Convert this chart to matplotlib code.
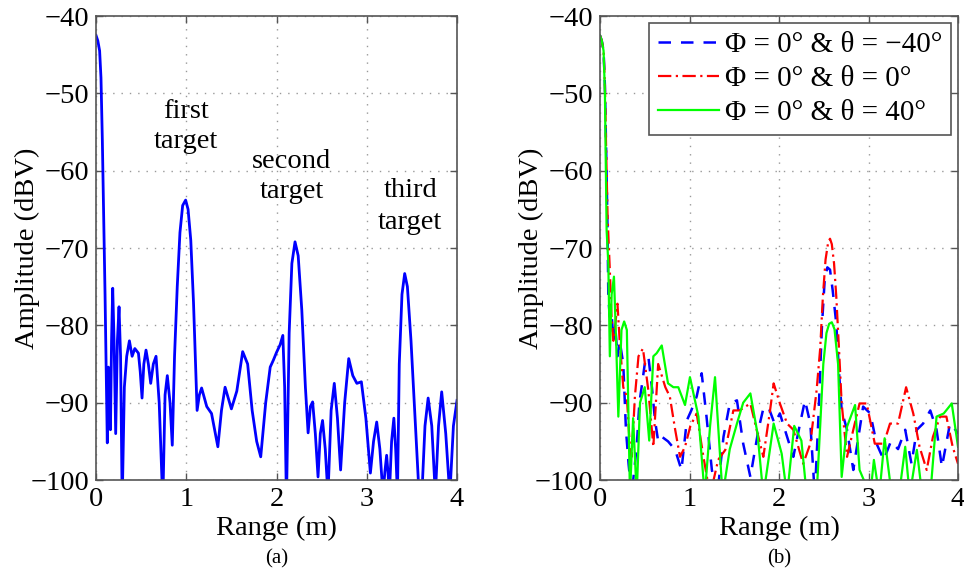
import numpy as np
import matplotlib.pyplot as plt

plt.rcParams['font.family'] = ['Liberation Serif', 'DejaVu Serif']

# (a) single measurement
range_a = [0.0, 0.02, 0.04, 0.055, 0.07, 0.085, 0.1, 0.115, 0.125, 0.131, 0.137, 0.148,
           0.16, 0.172, 0.185, 0.2, 0.218, 0.237, 0.255, 0.272,
           0.29, 0.314, 0.34, 0.37, 0.40, 0.43, 0.47, 0.49, 0.51, 0.53, 0.554, 0.58,
           0.606, 0.635, 0.665, 0.70, 0.74, 0.765, 0.79, 0.82,
           0.845, 0.87, 0.90, 0.93, 0.96, 0.993, 1.02, 1.05, 1.08, 1.12, 1.145, 1.17,
           1.227, 1.28, 1.35, 1.39, 1.43, 1.50, 1.56,
           1.625, 1.68, 1.73, 1.78, 1.825, 1.88, 1.93, 1.965, 2.0, 2.04, 2.07, 2.09, 2.11,
           2.14, 2.17, 2.205, 2.24, 2.28, 2.32, 2.35, 2.375, 2.40,
           2.43, 2.46, 2.485, 2.51, 2.54, 2.57, 2.605, 2.64, 2.675, 2.71, 2.755, 2.80,
           2.845, 2.89, 2.94, 2.99, 3.04, 3.075, 3.11, 3.145, 3.18, 3.2, 3.22,
           3.235, 3.25, 3.275, 3.30, 3.32, 3.34, 3.36, 3.39, 3.42, 3.45, 3.49, 3.54,
           3.58, 3.61, 3.645, 3.68, 3.72, 3.76, 3.795, 3.83, 3.875, 3.92, 3.96, 4.0]
amp_a = [-42.5, -43.2, -44.5, -48, -56, -66, -76, -88, -95.2, -88, -85.4, -88,
         -93.5, -82, -75.2, -82, -94, -82, -77.6, -84,
         -103, -88, -84, -82, -84, -83, -83.6, -86, -89.4, -85, -83.2, -85,
         -87.5, -85, -84, -90, -103, -89, -86.5, -90,
         -95.5, -84, -75, -68, -64.5, -63.8, -65, -69, -77, -91, -89, -88.1,
         -90.5, -91.4, -95.7, -91, -88, -90.8, -88.5,
         -83.4, -85, -91, -95, -97, -90, -85.4, -84.5, -83.5, -82.5, -81.3, -88, -103,
         -81, -72, -69.2, -71, -78, -88, -93.9, -90.5, -89.9,
         -94, -99.6, -94, -92.3, -96, -102, -91, -87.5, -92, -98.7, -90, -84.3,
         -86.5, -87.5, -87.3, -92, -99.1, -95, -92.5, -96, -102, -99, -96.8,
         -99, -102, -95, -92, -96, -102, -85, -76, -73.3, -75, -82, -93,
         -102, -102, -93, -89.4, -93, -102, -93, -88.6, -94, -102, -93, -89.7]

# (b) three steering angles
range_neg40 = [0.0, 0.02, 0.04, 0.055, 0.07, 0.085, 0.093, 0.11, 0.13, 0.15, 0.17, 0.195,
               0.22, 0.26, 0.29, 0.32, 0.354, 0.38,
               0.41, 0.44, 0.465, 0.50, 0.54, 0.58, 0.615, 0.65, 0.69, 0.76, 0.84, 0.91,
               0.97, 1.02, 1.08, 1.136, 1.19, 1.25, 1.31, 1.38, 1.45, 1.53, 1.60, 1.68,
               1.77, 1.82, 1.88, 1.95, 2.01, 2.09, 2.16, 2.23, 2.29, 2.35, 2.40, 2.44,
               2.48, 2.51, 2.54, 2.57, 2.60, 2.64, 2.67,
               2.70, 2.76, 2.83, 2.94, 3.02, 3.09, 3.17, 3.25, 3.33, 3.41, 3.48, 3.54,
               3.61, 3.69, 3.76, 3.82, 3.91, 3.97, 4.0]
amp_neg40 = [-42.5, -43.2, -44.5, -49, -58, -68, -76.3, -79, -78.5, -82, -80, -84,
             -82, -85, -93.5, -98, -102, -99,
             -95.7, -90, -88, -85, -84, -88, -92.3, -95, -94.4, -95, -96.1, -98.7,
             -92.3, -91, -89.2, -86.2, -91.8, -98.7, -102, -94.4, -90.1, -89.7, -95.3, -99.6,
             -93.5, -91, -90.5, -92.7, -91.4, -94.4, -97, -93, -89.7, -92.7, -102, -92,
             -80, -74.2, -72.5, -72.8, -75.5, -79.8, -86,
             -91, -93.5, -98.7, -90.5, -91.4, -95.3, -97.4, -95, -96, -93.5, -97.9, -93.5,
             -92.7, -91, -93.5, -98.3, -92.7, -93.5, -94]
range_0 = [0.0, 0.02, 0.04, 0.055, 0.07, 0.085, 0.11, 0.13, 0.15, 0.17, 0.195, 0.22,
           0.26, 0.30, 0.33, 0.354,
           0.39, 0.43, 0.48, 0.54, 0.596, 0.65, 0.73, 0.78, 0.84, 0.894, 0.95, 1.01, 1.08,
           1.15, 1.23, 1.32, 1.40, 1.49, 1.56, 1.68, 1.75, 1.825, 1.90, 1.94, 2.01,
           2.09, 2.16, 2.27, 2.35, 2.42, 2.46, 2.49, 2.52, 2.55, 2.57, 2.59, 2.615,
           2.64, 2.67, 2.70, 2.76, 2.83, 2.90,
           2.98, 3.07, 3.17, 3.24, 3.33, 3.42, 3.50, 3.57, 3.65, 3.72, 3.80, 3.87,
           3.94, 4.0]
amp_0 = [-42.5, -43.2, -44.5, -49, -58, -66, -72.9, -79.3, -82, -80, -77.2, -82,
         -88, -89.2, -95, -97,
         -89.2, -84, -83, -88.4, -95.7, -85, -88, -89.2, -93.5, -97, -95.7, -93, -91.4,
         -96.6, -102, -97.4, -96.1, -91, -91, -90.1, -93.5, -97, -91, -87.5, -90.1,
         -92.7, -93.5, -97.9, -95.3, -88.4, -83, -76.3, -71.5, -69.2, -68.8, -69.5, -72,
         -76.3, -83, -90.1, -97, -93.5, -90.1,
         -90.1, -95.3, -95.3, -92.7, -92.7, -88, -91.4, -95.7, -98.7, -94.4, -91.8, -91.8,
         -95.7, -97.9]
range_pos40 = [0.0, 0.02, 0.04, 0.055, 0.074, 0.093, 0.11, 0.13, 0.156, 0.18, 0.205, 0.24,
               0.27, 0.30, 0.335,
               0.37, 0.41, 0.447, 0.50, 0.55, 0.596, 0.633, 0.69, 0.76, 0.82, 0.875,
               0.95, 1.005, 1.10, 1.17, 1.23, 1.285, 1.37, 1.45, 1.53, 1.60, 1.68, 1.76,
               1.825, 1.94, 2.03, 2.09, 2.17, 2.25, 2.31, 2.42, 2.46, 2.495, 2.53, 2.56,
               2.59, 2.62, 2.66, 2.70,
               2.76, 2.85, 2.90, 3.02, 3.06, 3.12, 3.18, 3.26, 3.34, 3.41, 3.46, 3.54,
               3.60, 3.69, 3.76, 3.84, 3.93, 4.0]
amp_pos40 = [-42.5, -43.2, -44.5, -50, -67.7, -72, -84, -76, -73.7, -82, -91.8, -80.6,
             -79.5, -80.6, -102,
             -92, -102, -90, -88, -94.9, -84, -83.6, -82.6, -87.5, -88, -88,
             -90.3, -86.7, -91.8, -102, -93, -86.7, -102, -96, -92.7, -90, -88.8, -94,
             -102, -92.7, -96.6, -102, -93, -94.9, -102, -102, -93, -85, -81, -79.8,
             -79.6, -80.5, -85, -99.6,
             -93.1, -90.3, -98.7, -102, -97.4, -102, -94.6, -102, -102, -95.7, -102, -96.1,
             -102, -102, -91.8, -91.4, -90.1, -95.7]

ticks_x = [0, 1, 2, 3, 4]
ticks_y = [-40, -50, -60, -70, -80, -90, -100]

fig = plt.figure(figsize=(9.64, 5.72), dpi=100)
ax1 = fig.add_axes([0.0996, 0.1608, 0.3745, 0.8112])
ax2 = fig.add_axes([0.6224, 0.1608, 0.3714, 0.8112])


def style(ax):
    ax.set_xlim(0, 4)
    ax.set_ylim(-100, -40)
    ax.set_xticks(ticks_x)
    ax.set_yticks(ticks_y)
    ax.tick_params(direction='in', top=True, right=True, labelsize=20.5, length=5,
                   width=1, color='#555555', pad=5)
    ax.grid(True, linestyle=(0, (1, 5)), color='#999999', linewidth=1)
    for s in ax.spines.values():
        s.set_color('#555555')
        s.set_linewidth(1.2)
    ax.set_xlabel('Range (m)', fontsize=20.5, labelpad=3)
    ax.set_ylabel('Amplitude (dBV)', fontsize=20.5, labelpad=-7)


ax1.plot(range_a, amp_a, color='#0000ff', linewidth=2)
style(ax1)
ax1.text(1.0, -54.3, 'first\ntarget', ha='center', va='center', fontsize=20.5, linespacing=1.3)
ax1.text(2.17, -60.8, 'second\ntarget', ha='center', va='center', fontsize=20.5, linespacing=1.25)
ax1.text(3.48, -64.6, 'third\ntarget', ha='center', va='center', fontsize=20.5, linespacing=1.35)

ax2.plot(range_neg40, amp_neg40, color='#0000ff', linewidth=1.8, linestyle=(0, (5, 4)),
         label='Φ = 0° & θ = −40°')
ax2.plot(range_0, amp_0, color='#ff0000', linewidth=1.6, linestyle=(0, (6, 2, 1, 2)),
         label='Φ = 0° & θ = 0°')
ax2.plot(range_pos40, amp_pos40, color='#00ff00', linewidth=1.6, label='Φ = 0° & θ = 40°')
style(ax2)
leg = ax2.legend(loc='upper right', fontsize=21, handlelength=2.1, handletextpad=0.2,
                 borderpad=0.3, labelspacing=0.25, fancybox=False, framealpha=1,
                 borderaxespad=0.25)
leg.get_frame().set_edgecolor('#555555')
leg.get_frame().set_linewidth(1.2)

fig.text(0.0996 + 0.3745 / 2, 0.006, '(a)', ha='center', va='bottom', fontsize=15)
fig.text(0.6224 + 0.3714 / 2, 0.006, '(b)', ha='center', va='bottom', fontsize=15)

fig.savefig('out.png', dpi=100)
